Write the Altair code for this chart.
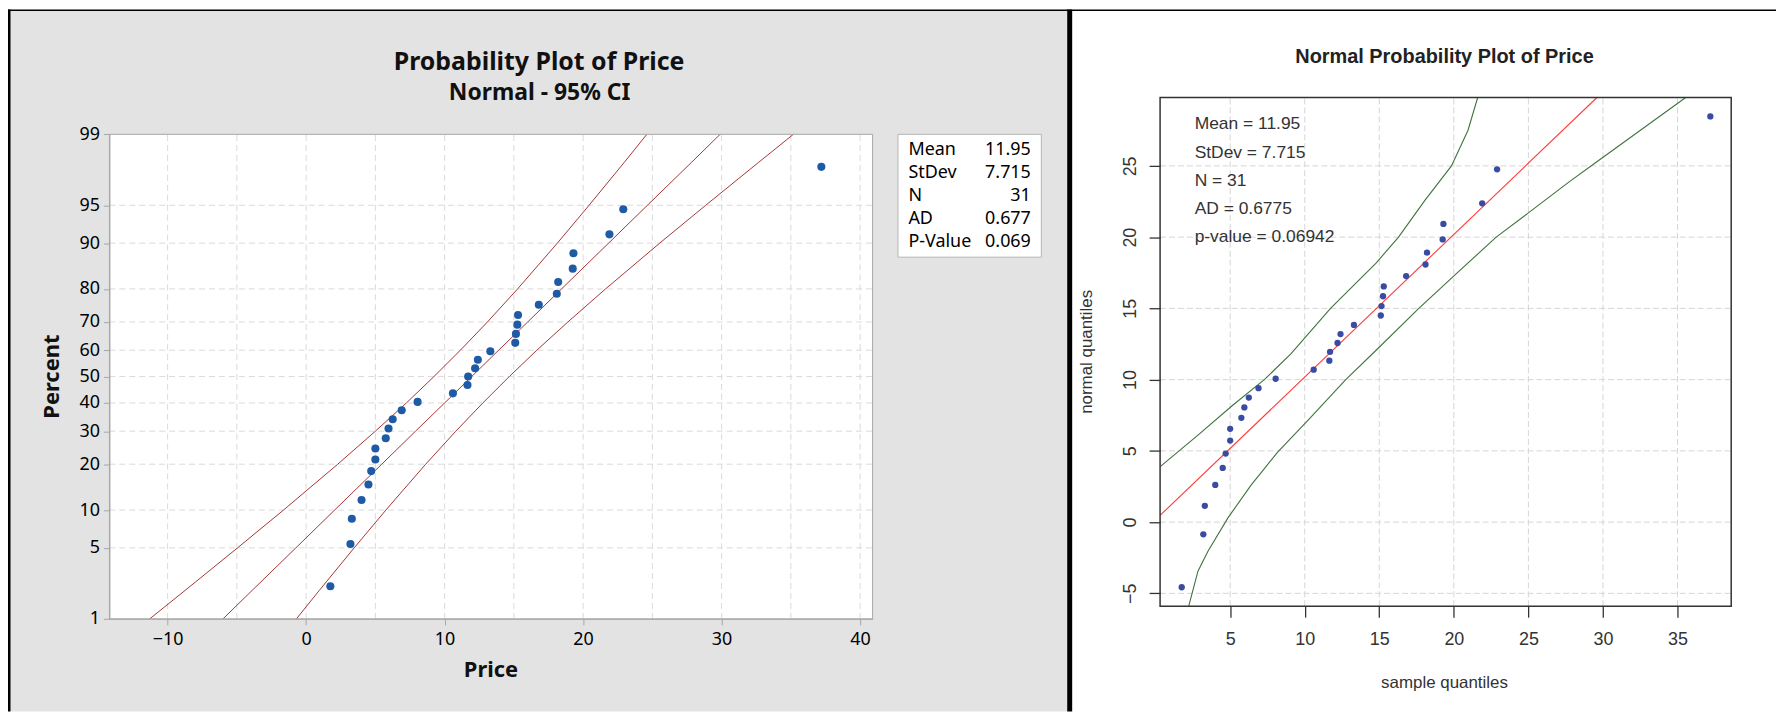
import altair as alt
import pandas as pd
from statistics import NormalDist

# ---------------- data ----------------
price = [1.75, 3.2, 3.3, 4.0, 4.5, 4.7, 5.0, 5.0, 5.75, 5.95, 6.25, 6.9, 8.05, 10.6,
         11.65, 11.7, 12.2, 12.4, 13.3, 15.1, 15.15, 15.25, 15.3, 16.8, 18.1, 18.2,
         19.25, 19.3, 21.9, 22.9, 37.2]
percent = [2.2, 5.4, 8.6, 11.8, 15.0, 18.2, 21.3, 24.5, 27.7, 30.9, 34.1, 37.3, 40.4,
           43.6, 46.8, 50.0, 53.2, 56.4, 59.6, 62.7, 65.9, 69.1, 72.3, 75.5, 78.7,
           81.8, 85.0, 88.2, 91.4, 94.6, 97.8]
normal_quantile = [-4.57, -0.86, 1.14, 2.61, 3.80, 4.81, 5.72, 6.55, 7.32, 8.05, 8.74,
                   9.40, 10.06, 10.70, 11.33, 11.95, 12.57, 13.20, 13.84, 14.50, 15.16,
                   15.85, 16.54, 17.27, 18.08, 18.91, 19.84, 20.93, 22.37, 24.76, 28.47]

ci_percent = [1, 2, 5, 10, 20, 30, 40, 50, 60, 70, 80, 90, 95, 98, 99]
ci_lower = [-11.29, -8.74, -4.95, -1.63, 2.28, 5.00, 7.24, 9.23, 11.14, 13.09, 15.27,
            18.14, 20.43, 22.95, 24.60]
fit_line = [-6.00, -3.90, -0.74, 2.06, 5.46, 7.90, 10.00, 11.95, 13.90, 16.00, 18.44,
            21.84, 24.64, 27.80, 29.89]
ci_upper = [-0.70, 0.95, 3.47, 5.76, 8.63, 10.81, 12.76, 14.67, 16.66, 18.90, 21.62,
            25.53, 28.85, 32.64, 35.18]

r_upper_x = [0.31, 2.84, 5.17, 7.29, 9.07, 11.73, 14.8, 16.29, 18.07, 19.84, 20.95, 21.6]
r_upper_y = [3.89, 6.1, 8.2, 10.0, 11.8, 15.0, 18.2, 20.0, 22.6, 25.0, 27.5, 29.8]
r_lower_x = [2.22, 2.84, 3.51, 4.84, 6.4, 8.17, 10.29, 12.75, 14.65, 17.65, 20.17,
             22.84, 25.0, 27.73, 29.73, 35.55]
r_lower_y = [-5.9, -3.44, -2.04, 0.28, 2.6, 4.9, 7.22, 10.0, 11.92, 15.0, 17.44, 20.0,
             21.7, 23.88, 25.4, 29.8]
r_ref_x = [0.3, 29.6]
r_ref_y = [0.47, 29.8]

left_x_ticks = [-10, 0, 10, 20, 30, 40]
left_x_grid = [-10, -5, 0, 5, 10, 15, 20, 25, 30, 35, 40]
left_pct_ticks = [1, 5, 10, 20, 30, 40, 50, 60, 70, 80, 90, 95, 99]
left_pct_grid = [5, 10, 20, 30, 40, 50, 60, 70, 80, 90, 95]
right_x_ticks = [5, 10, 15, 20, 25, 30, 35]
right_y_ticks = [-5, 0, 5, 10, 15, 20, 25]

stat_names = ["Mean", "StDev", "N", "AD", "P-Value"]
stat_values_left = ["11.95", "7.715", "31", "0.677", "0.069"]
stat_lines_right = ["Mean = 11.95", "StDev = 7.715", "N = 31", "AD = 0.6775",
                    "p-value = 0.06942"]

# ---------------- layout ----------------
W, H = 1776, 705
FL = "Noto Sans"
FR = "Liberation Sans"
nd = NormalDist()
ZLO, ZHI = nd.inv_cdf(0.01), nd.inv_cdf(0.99)
z_ticks = [nd.inv_cdf(p / 100) for p in left_pct_ticks]

one = pd.DataFrame({"k": [0]})

# ---------------- left (Minitab style) ----------------
L_GREY = "#a6a6a6"
sx_l = alt.Scale(domain=[-14.2, 40.9], range=[101.9, 868.5], nice=False, zero=False)
sy_l = alt.Scale(domain=[ZLO, ZHI], range=[612, 125.3], nice=False, zero=False)
ax_lx = alt.Axis(orient="bottom", offset=-(H - 612), values=left_x_ticks, grid=False,
                 domainColor=L_GREY, tickColor=L_GREY, tickSize=6, labelFont=FL,
                 labelFontSize=18, labelColor="black", labelPadding=6, labelFlush=False,
                 labelOverlap=False, title=None, zindex=1)
ax_ly = alt.Axis(orient="left", offset=-101.9, values=z_ticks, grid=False,
                 labelExpr="'' + round(cumulativeNormal(datum.value) * 100)",
                 domainColor=L_GREY, tickColor=L_GREY, tickSize=6, labelFont=FL,
                 labelFontSize=18, labelColor="black", labelPadding=4, labelFlush=False,
                 labelOverlap=False, title=None, zindex=1)


def lx(f):
    return alt.X(f, scale=sx_l, axis=ax_lx)


def ly(f):
    return alt.Y(f, scale=sy_l, axis=ax_ly)


lxd = alt.X(datum=-14.2, scale=sx_l, axis=ax_lx)
lyd = alt.Y(datum=ZLO, scale=sy_l, axis=ax_ly)

l_bg = alt.Chart(one).mark_rect(color="white").encode(
    x=lxd, x2=alt.X2(datum=40.9), y=lyd, y2=alt.Y2(datum=ZHI))
l_vgrid = alt.Chart(pd.DataFrame({"gx": left_x_grid})).mark_rule(
    color="#dadada", strokeDash=[6, 4], strokeWidth=1).encode(
    x=lx("gx:Q"), y=lyd, y2=alt.Y2(datum=ZHI))
l_hgrid = alt.Chart(pd.DataFrame({"gp": left_pct_grid})).transform_calculate(
    gz="quantileNormal(datum.gp / 100)").mark_rule(
    color="#dadada", strokeDash=[6, 4], strokeWidth=1).encode(
    y=ly("gz:Q"), x=lxd, x2=alt.X2(datum=40.9))

ci_rows = []
for band, vals in (("lower", ci_lower), ("fit", fit_line), ("upper", ci_upper)):
    for p, v in zip(ci_percent, vals):
        ci_rows.append({"band": band, "pct": p, "price": v})
df_ci = pd.DataFrame(ci_rows)
l_lines = alt.Chart(df_ci).transform_calculate(
    z="quantileNormal(datum.pct / 100)").mark_line(
    color="#a53535", strokeWidth=1).encode(
    x=lx("price:Q"), y=ly("z:Q"), detail="band:N", order="pct:Q")

df_pts = pd.DataFrame({"price": price, "percent": percent})
l_pts = alt.Chart(df_pts).transform_calculate(
    z="quantileNormal(datum.percent / 100)").mark_circle(
    color="#1f5aa6", opacity=1, size=66).encode(x=lx("price:Q"), y=ly("z:Q"))

l_frame = alt.Chart(one).mark_rect(fill="transparent", stroke=L_GREY, strokeWidth=1).encode(
    x=lxd, x2=alt.X2(datum=40.9), y=lyd, y2=alt.Y2(datum=ZHI))

left = alt.layer(l_bg, l_vgrid, l_hgrid, l_lines, l_pts, l_frame)

# ---------------- right (R style) ----------------
sx_r = alt.Scale(domain=[0.3, 38.6], range=[1157.3, 1731], nice=False, zero=False)
sy_r = alt.Scale(domain=[-5.9, 29.8], range=[599.3, 88.3], nice=False, zero=False)
ax_rx = alt.Axis(orient="bottom", offset=-(H - 599.3), values=right_x_ticks, grid=False,
                 domain=False, tickColor="#333333", tickWidth=1.3, tickSize=11,
                 labelFont=FR, labelFontSize=18, labelColor="#333333", labelPadding=13,
                 labelFlush=False, labelOverlap=False, title=None, zindex=1)
ax_ry = alt.Axis(orient="left", offset=-1157.3, values=right_y_ticks, grid=False,
                 domain=False, tickColor="#333333", tickWidth=1.3, tickSize=11,
                 labelFont=FR, labelFontSize=18, labelColor="#333333", labelPadding=10,
                 labelAngle=270, labelAlign="center", labelBaseline="bottom",
                 labelFlush=False, labelOverlap=False, title=None, zindex=1)


def rx(f):
    return alt.X(f, scale=sx_r, axis=ax_rx)


def ry(f):
    return alt.Y(f, scale=sy_r, axis=ax_ry)


rxd = alt.X(datum=0.3, scale=sx_r, axis=ax_rx)
ryd = alt.Y(datum=-5.9, scale=sy_r, axis=ax_ry)

r_vgrid = alt.Chart(pd.DataFrame({"gx": right_x_ticks})).mark_rule(
    color="#d6d6d6", strokeDash=[6, 3], strokeWidth=1).encode(
    x=rx("gx:Q"), y=ryd, y2=alt.Y2(datum=29.8))
r_hgrid = alt.Chart(pd.DataFrame({"gy": right_y_ticks})).mark_rule(
    color="#d6d6d6", strokeDash=[6, 3], strokeWidth=1).encode(
    y=ry("gy:Q"), x=rxd, x2=alt.X2(datum=38.6))

r_rows = []
for name, xs, ys in (("upper", r_upper_x, r_upper_y), ("lower", r_lower_x, r_lower_y)):
    for i, (a, b) in enumerate(zip(xs, ys)):
        r_rows.append({"curve": name, "i": i, "sq": a, "nq": b})
df_env = pd.DataFrame(r_rows)
r_env = alt.Chart(df_env).mark_line(color="#3f733f", strokeWidth=1.1).encode(
    x=rx("sq:Q"), y=ry("nq:Q"), detail="curve:N", order="i:Q")
r_ref = alt.Chart(pd.DataFrame({"sq": r_ref_x, "nq": r_ref_y})).mark_line(
    color="#ff3b3b", strokeWidth=1.1).encode(x=rx("sq:Q"), y=ry("nq:Q"))
r_pts = alt.Chart(pd.DataFrame({"sq": price, "nq": normal_quantile})).mark_circle(
    color="#3a4ba3", opacity=1, size=40).encode(x=rx("sq:Q"), y=ry("nq:Q"))
r_frame = alt.Chart(one).mark_rect(fill="transparent", stroke="#333333", strokeWidth=1.5).encode(
    x=rxd, x2=alt.X2(datum=38.6), y=ryd, y2=alt.Y2(datum=29.8))

right = alt.layer(r_vgrid, r_hgrid, r_env, r_ref, r_pts, r_frame)


# ---------------- decorations & texts ----------------
def box(x1, x2, y1, y2, **kw):
    return alt.Chart(one).mark_rect(**kw).encode(
        x=alt.value(x1), x2=alt.value(x2), y=alt.value(y1), y2=alt.value(y2))


def txt(s, x, y, **kw):
    kw.setdefault("baseline", "alphabetic")
    return alt.Chart(one).mark_text(text=s, **kw).encode(x=alt.value(x), y=alt.value(y))


deco = [
    box(2, 1064, 1, H, color="#e3e3e3"),
    box(0, W, 0, 1.5, color="black"),
    box(0, 2.5, 0, H, color="black"),
    box(1064, 1069, 0, H, color="black"),
]
texts_left = [
    txt("Probability Plot of Price", 533.5, 60.5, font=FL, fontSize=25, fontWeight="bold",
        align="center", color="#111111"),
    txt("Normal - 95% CI", 534, 91, font=FL, fontSize=23, fontWeight="bold",
        align="center", color="#111111"),
    txt("Percent", 44, 368.7, font=FL, fontSize=22, fontWeight="bold", angle=270,
        align="center", baseline="middle", color="#111111"),
    txt("Price", 485.2, 670, font=FL, fontSize=22, fontWeight="bold", align="center",
        color="#111111"),
    box(894, 1038, 125.3, 248.7, fill="white", stroke="#b4b4b4", strokeWidth=1),
    txt(stat_names, 904.5, 146, font=FL, fontSize=18, lineHeight=23, align="left",
        color="black"),
    txt(stat_values_left, 1027.5, 146, font=FL, fontSize=18, lineHeight=23,
        align="right", color="black"),
]
texts_right = [
    txt("Normal Probability Plot of Price", 1443, 54, font=FR, fontSize=20,
        fontWeight="bold", align="center", color="#222222"),
    txt("sample quantiles", 1443, 681, font=FR, fontSize=17, align="center",
        color="#333333"),
    txt("normal quantiles", 1084, 343.8, font=FR, fontSize=17, angle=270,
        align="center", baseline="middle", color="#333333"),
    txt(stat_lines_right, 1192, 120.3, font=FR, fontSize=17.5, lineHeight=28.4,
        align="left", color="#333333"),
]

chart = alt.layer(*deco, left, *texts_left, right, *texts_right).resolve_scale(
    x="independent", y="independent"
).properties(
    width=W, height=H, autosize=alt.AutoSizeParams(type="none"), padding=0,
    background="white"
).configure_view(strokeWidth=0)

chart.save("out.html", embed_options={"renderer": "svg", "actions": False})
